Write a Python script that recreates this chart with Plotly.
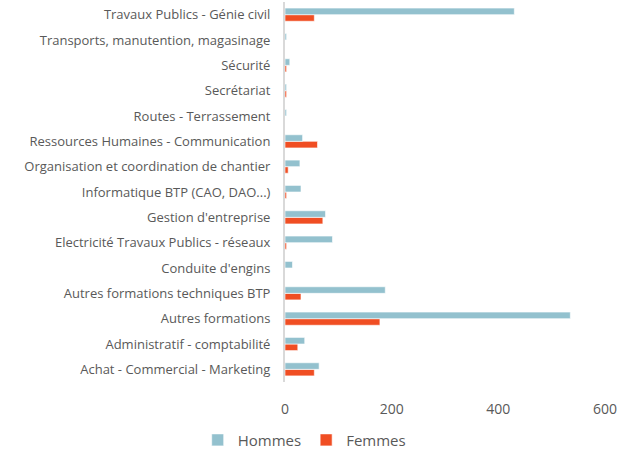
import plotly.graph_objects as go

categories = [
    "Achat - Commercial - Marketing",
    "Administratif - comptabilité",
    "Autres formations",
    "Autres formations techniques BTP",
    "Conduite d'engins",
    "Electricité Travaux Publics - réseaux",
    "Gestion d'entreprise",
    "Informatique BTP (CAO, DAO...)",
    "Organisation et coordination de chantier",
    "Ressources Humaines - Communication",
    "Routes - Terrassement",
    "Secrétariat",
    "Sécurité",
    "Transports, manutention, magasinage",
    "Travaux Publics - Génie civil",
]
hommes = [64, 37, 535, 188, 14, 89, 76, 30, 28, 33, 3, 3, 9, 3, 430]
femmes = [55, 24, 178, 30, 0, 3, 71, 3, 6, 61, 0, 3, 3, 0, 55]
x_ticks = [0, 200, 400, 600]

fig = go.Figure()
fig.add_trace(go.Bar(
    y=categories, x=femmes, name="Femmes", orientation="h",
    marker=dict(color="#F04E23", line=dict(color="rgba(255,255,255,0.6)", width=1)),
    legendrank=2,
))
fig.add_trace(go.Bar(
    y=categories, x=hommes, name="Hommes", orientation="h",
    marker=dict(color="#93C1CE", line=dict(color="rgba(255,255,255,0.6)", width=1)),
    legendrank=1,
))

fig.update_layout(
    width=629, height=451,
    margin=dict(l=285, r=24, t=2, b=69, autoexpand=False),
    barmode="group", bargap=0.48, bargroupgap=0,
    plot_bgcolor="white", paper_bgcolor="white",
    font=dict(family="Open Sans", size=13, color="#595959"),
    xaxis=dict(range=[0, 600], tickvals=x_ticks, showgrid=False, zeroline=False,
               showline=False, ticks="outside", ticklen=14, tickcolor="rgba(0,0,0,0)",
               tickfont=dict(size=14), automargin=False),
    yaxis=dict(showgrid=False, showline=True, linecolor="#D9D9D9", linewidth=2,
               ticks="outside", ticklen=10, tickcolor="rgba(0,0,0,0)",
               automargin=False, range=[-0.5, 14.5]),
    legend=dict(orientation="h", x=0.06, xanchor="center",
                y=-0.153, yanchor="middle",
                font=dict(size=15), itemwidth=30, traceorder="normal"),
    showlegend=True,
)

fig.write_html("out.html", post_script="document.body.style.margin='0';",
               config={"displayModeBar": False})
